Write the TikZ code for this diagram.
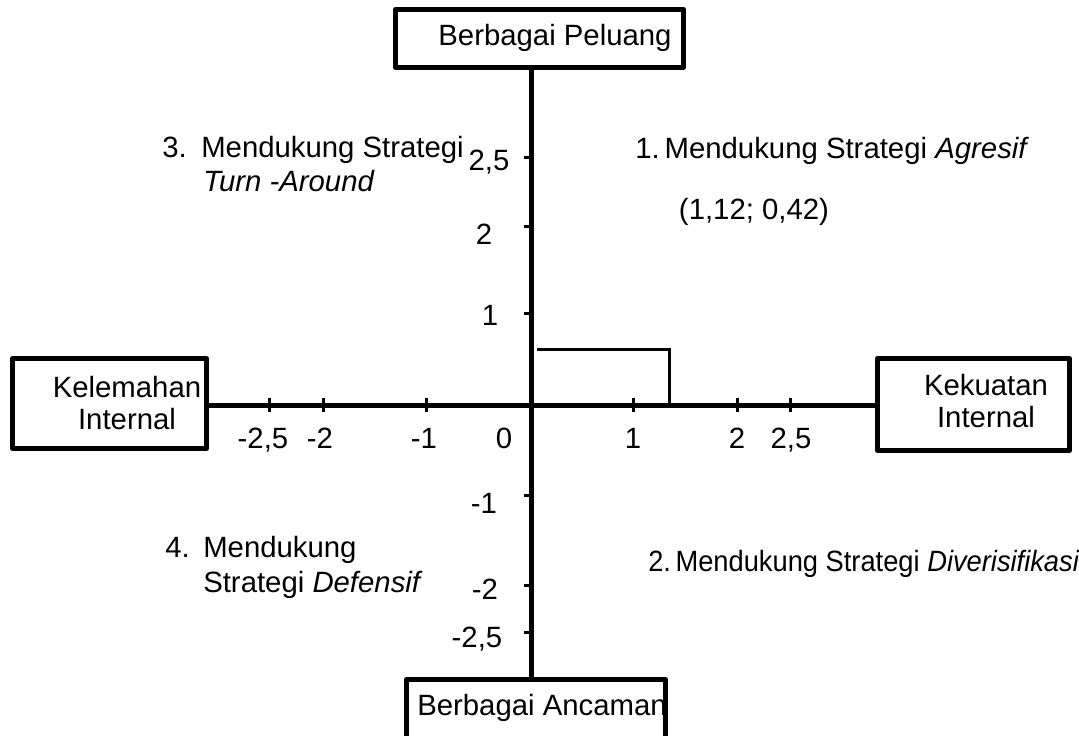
\documentclass[tikz,border=0pt]{standalone}
\usepackage{graphicx}
\usepackage{fontspec}
\setmainfont{Liberation Sans}

\tikzset{
  kotak/.style={draw, line width=3.75pt, line join=round, inner sep=0pt, outer sep=0pt},
  sumbu/.style={line width=3.75pt},
  garis/.style={line width=2.25pt},
  tanda/.style={line width=2.25pt},
  teks/.style={font=\fontsize{22}{23.5}\selectfont, inner sep=0pt},
}

\begin{document}
\begin{tikzpicture}[x=0.75pt,y=0.75pt,yscale=-1,xscale=1]
        \useasboundingbox (0,0) rectangle (1079,736);
        % Box
        \node [kotak, minimum width=216pt, minimum height=43.5pt] (peluang) at (539.5,38.5) {};
        % Box
        \node [kotak, minimum width=145.5pt, minimum height=67.5pt] (kelemahan) at (109.5,403.5) {};
        % Box
        \node [kotak, minimum width=144pt, minimum height=69pt] (kekuatan) at (973.5,404.5) {};
        % Box
        \node [kotak, minimum width=194.25pt, minimum height=46.9pt] (ancaman) at (536,710.75) {};
        % Origin
        \coordinate (O) at (531,405);
        % Text Node
        \node [teks] (tpeluang) at (555,38) {Berbagai Peluang};
        % Text Node
        \node [teks, align=center] (tkelemahan) at (127,403) {Kelemahan\\Internal};
        % Text Node
        \node [teks, align=center] (tkekuatan) at (986,401) {Kekuatan\\Internal};
        % Text Node
        \node [teks, anchor=base west] (tancaman) at (417,715) {Berbagai Ancaman};
        % Connection
        \draw [sumbu] (peluang.south -| O) -- (ancaman.north -| O);
        % Connection
        \draw [sumbu] (kelemahan.east |- O) -- (kekuatan.west |- O);
        % Point
        \draw [garis] (537,349) -- (669,349) -- (669,405);
        % Tick
        \draw [tanda] (269,398) -- (269,412);
        \draw [tanda] (323,398) -- (323,412);
        \draw [tanda] (426,398) -- (426,412);
        \draw [tanda] (633,398) -- (633,412);
        \draw [tanda] (737,398) -- (737,412);
        \draw [tanda] (790,398) -- (790,412);
        % Tick
        \draw [tanda] (524,157) -- (531,157);
        \draw [tanda] (524,226) -- (531,226);
        \draw [tanda] (524,313) -- (531,313);
        \draw [tanda] (524,495) -- (531,495);
        \draw [tanda] (524,585) -- (531,585);
        \draw [tanda] (524,632) -- (531,632);
        % Text Node
        \node [teks, anchor=base] (xa) at (263,448) {-2,5};
        \node [teks, anchor=base] (xb) at (320,448) {-2};
        \node [teks, anchor=base] (xc) at (424,448) {-1};
        \node [teks, anchor=base] (xd) at (504,448) {0};
        \node [teks, anchor=base] (xe) at (633,448) {1};
        \node [teks, anchor=base] (xf) at (737,448) {2};
        \node [teks, anchor=base] (xg) at (791,448) {2,5};
        % Text Node
        \node [teks, anchor=base] (ya) at (489,170) {2,5};
        \node [teks, anchor=base] (yb) at (484,244) {2};
        \node [teks, anchor=base] (yc) at (490,325) {1};
        \node [teks, anchor=base] (yd) at (484,513) {-1};
        \node [teks, anchor=base] (ye) at (485,599) {-2};
        \node [teks, anchor=base] (yf) at (477,647) {-2,5};
        % Text Node
        \node [teks, anchor=base west] (no1) at (635,158) {1.\,Mendukung Strategi \textit{Agresif}};
        % Text Node
        \node [teks, anchor=base] (titik) at (754,219) {(1,12; 0,42)};
        % Text Node
        \node [teks, anchor=base west] (no2) at (648,571) {\scalebox{0.93}[1]{2.\,Mendukung Strategi \textit{Diverisifikasi}}};
        % Text Node
        \node [teks, anchor=base west] (no3) at (162,157) {3.};
        \node [teks, anchor=base west] (st3a) at (201,157) {Mendukung Strategi};
        \node [teks, anchor=base west] (st3b) at (203,191) {\textit{Turn -Around}};
        % Text Node
        \node [teks, anchor=base west] (no4) at (165,557) {4.};
        \node [teks, anchor=base west] (st4a) at (203,557) {Mendukung};
        \node [teks, anchor=base west] (st4b) at (203,592) {Strategi \textit{Defensif}};
    \end{tikzpicture}
\end{document}
